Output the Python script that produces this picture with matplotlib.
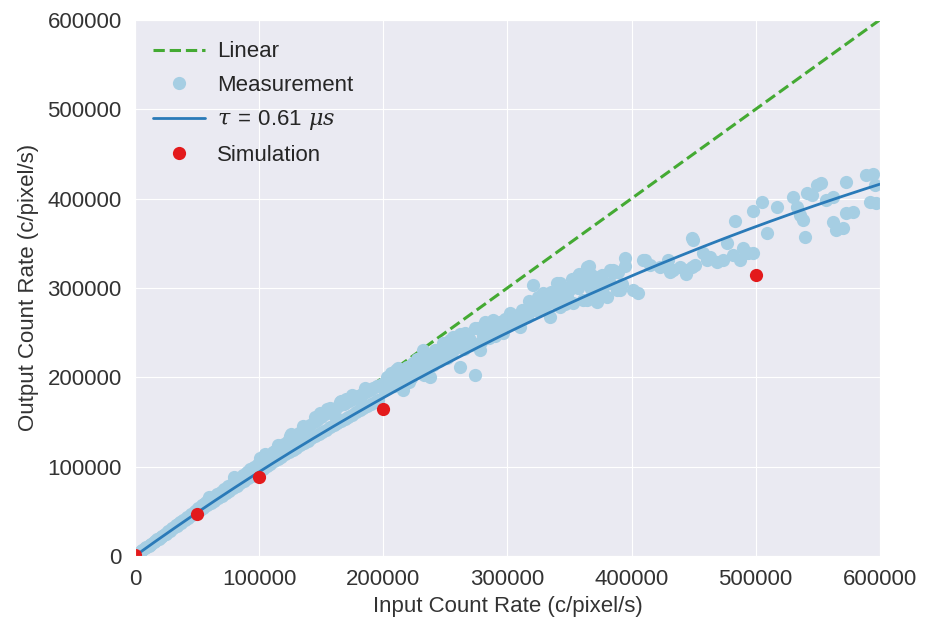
import numpy as np
import matplotlib
matplotlib.use("Agg")
import matplotlib.pyplot as plt
import seaborn as sns

sns.set_style("darkgrid")
plt.rcParams["font.family"] = ["Liberation Sans", "DejaVu Sans"]
plt.rcParams["mathtext.fontset"] = "custom"
plt.rcParams["mathtext.rm"] = "Liberation Sans"
plt.rcParams["mathtext.it"] = "DejaVu Serif:italic"

# dead time of the paralyzable fit (seconds)
tau = 0.61e-6

# measured input/output rates, in thousands of counts per pixel per second
meas_x = [
    2, 4, 5, 6, 8, 9, 11, 12, 13, 15, 16, 18, 19, 21, 22, 24, 25, 27, 28, 30,
    31, 33, 34, 35, 36, 37, 39, 40, 42, 43, 45, 46, 48, 49, 51, 52, 54, 55, 56, 57,
    58, 60, 61, 63, 64, 66, 67, 69, 70, 72, 73, 75, 76, 77, 78, 79, 81, 82, 84, 85,
    87, 88, 90, 91, 93, 94, 96, 97, 98, 99, 100, 101, 102, 103, 105, 106, 108, 109, 111, 112,
    114, 115, 117, 118, 119, 120, 121, 123, 124, 126, 126, 127, 129, 130, 132, 133, 135, 136, 138, 139,
    140, 141, 142, 144, 145, 147, 148, 149, 150, 151, 153, 154, 156, 157, 157, 159, 160, 161, 162, 163,
    165, 166, 166, 168, 169, 171, 172, 174, 175, 177, 178, 180, 181, 182, 183, 184, 186, 187, 189, 190,
    192, 193, 195, 196,
    60, 80, 105, 115, 125, 135, 145, 155, 165, 170, 175, 185,
    199, 203, 206, 208, 210, 213, 216, 218, 222, 224, 228, 232, 234, 237.6, 240, 243, 247, 250, 252, 256,
    258, 261.8, 264, 266, 270, 273.8, 276, 277.8, 280, 283, 285, 288.6, 292, 296.6, 298, 302, 305, 310, 312, 315.5,
    318, 320.5, 323.5, 326, 328.8, 331.6, 332, 334, 337, 339.6, 340, 342, 342, 346, 350, 353, 353, 355.7, 358, 361,
    363.8, 364, 366, 367, 369, 371.8, 371.8, 374.5, 377, 380, 382.6, 385, 388, 389, 390.6, 392, 394.6, 401, 405, 409,
    410.8, 415, 423, 429.5, 431, 433.6, 439, 444, 444.6, 449, 449, 449.7, 451, 457.6, 460.7, 463, 469, 473.6, 476.8, 481.6,
    483, 487, 489.7, 493.7, 497.7, 497.7, 504.7, 508.8, 516.8, 530, 533, 535.6, 538, 539.6, 541, 545, 549, 553, 557, 562,
    562, 565, 570.5, 573, 573, 578.5, 589, 592, 594.6, 596, 597,
    201, 205, 209, 212, 215, 219, 221, 225, 227, 230, 233, 236, 238, 242, 245, 248, 251, 254, 255, 259,
    262, 265, 268, 271, 274, 279, 282, 286, 290, 294, 297, 300, 304, 307, 313, 317, 322, 325, 330, 335,
    338, 344, 348, 352, 357, 362, 366, 370, 376, 383, 387, 395,
]
meas_y = [
    2.5, 4.4, 5.2, 6.5, 8.4, 9.5, 11.6, 12.1, 13.8, 15.6, 16.3, 18.9, 19.2, 21.8, 22.6, 24.9, 25.1, 28.0, 28.2, 30.9,
    31.8, 34.6, 33.9, 35.9, 37.5, 36.8, 40.8, 39.9, 44.0, 42.8, 47.5, 45.6, 50.4, 48.6, 53.8, 51.0, 57.2, 54.1, 57.8, 59.9,
    56.6, 62.5, 59.4, 65.8, 62.0, 69.0, 64.9, 71.5, 67.6, 74.8, 70.5, 78.0, 73.0, 76.5, 80.7, 76.0, 84.3, 78.4, 87.0, 81.4,
    90.4, 84.0, 93.5, 86.8, 96.8, 89.5, 100.0, 92.2, 97.0, 103.0, 95.0, 110.0, 106.8, 97.8, 109.5, 100.4, 113.0, 103.0, 116.2, 105.8,
    119.0, 108.3, 122.4, 111.0, 117.8, 125.5, 113.6, 128.3, 116.2, 131.6, 136.0, 118.7, 134.5, 121.3, 137.8, 123.8, 140.6, 126.5, 143.6, 129.0,
    137.5, 146.5, 131.6, 149.8, 134.0, 152.3, 136.5, 160.0, 155.6, 139.1, 158.4, 141.5, 161.0, 144.0, 166.0, 163.8, 146.4, 156.2, 166.0, 148.8,
    168.5, 151.2, 173.0, 170.4, 153.5, 172.8, 156.0, 174.6, 158.3, 176.8, 160.7, 178.9, 163.0, 172.6, 181.2, 165.4, 183.5, 167.6, 186.0, 170.0,
    188.4, 172.3, 190.0, 174.6,
    66, 88, 114, 124, 134, 145, 155, 164, 172, 176, 180, 188,
    192, 200, 204.5, 196, 208, 200.7, 185.8, 205, 199, 215.7, 209, 230.6, 220, 200.7, 214, 223, 232, 226, 238, 245.5,
    233, 212, 240, 250, 241.8, 202.6, 255, 230.6, 247, 253, 244, 264, 256, 249, 265, 271.7, 262, 256.7, 275, 268,
    280, 303, 286.6, 276, 294, 286.6, 282, 268, 286.6, 305, 291, 305, 279, 282, 297.8, 305, 283, 312.6, 316, 286.6,
    286.6, 323.5, 324, 299, 313, 294, 284.7, 301.5, 301.5, 290, 320, 320, 297.8, 318, 297.8, 304, 334, 298, 294, 331,
    331, 326, 323, 331, 318, 320, 323, 316, 320, 323, 356, 354, 325.7, 339, 331, 335, 329, 331, 350, 337,
    375, 331, 345, 339, 339, 386, 396.6, 361, 391, 402, 391, 381.7, 376, 357, 406, 404, 415, 417, 398.5, 402,
    374, 365, 367, 419, 383.6, 385, 426.5, 396.6, 428, 415, 394.8,
    186, 195, 190, 210, 198, 212, 195, 205, 220, 212, 203, 225, 215, 230, 218, 238, 222, 242, 228, 236,
    248, 232, 245, 236, 255, 240, 262, 252, 246, 262, 255, 258, 270, 260, 266, 285, 275, 290, 280, 296,
    283, 300, 290, 310, 300, 305, 318, 305, 315, 305, 318, 325,
]

# Monte Carlo simulation points
sim_x = [0, 50000, 100000, 200000, 500000]
sim_y = [1000, 47000, 88500, 164500, 314500]

mx = np.array(meas_x) * 1000
my = np.array(meas_y) * 1000
xs = np.linspace(0, 600000, 300)

fig = plt.figure(figsize=(9.34, 6.21), dpi=100)
fig.subplots_adjust(left=0.1445, right=0.942, top=0.968, bottom=0.1047)
ax = fig.add_subplot(111)

ax.plot(xs, xs, "--", color="#44aa33", lw=2.2, label="Linear")
ax.plot(mx, my, "o", color="#a6cee3", ms=9.5, mew=0, label="Measurement")
ax.plot(xs, xs * np.exp(-xs * tau), "-", color="#2a7ab8", lw=2,
        label=r"$\tau\,=\,0.61\ \mu s$")
ax.plot(sim_x, sim_y, "o", color="#e31a1c", ms=9.5, mew=0, label="Simulation")

ax.set_xlim(0, 600000)
ax.set_ylim(0, 600000)
ax.set_xticks(np.arange(0, 600001, 100000))
ax.set_yticks(np.arange(0, 600001, 100000))
ax.tick_params(labelsize=16, colors="#333333", pad=6)
ax.set_xlabel("Input Count Rate (c/pixel/s)", fontsize=16, color="#333333", labelpad=4)
ax.set_ylabel("Output Count Rate (c/pixel/s)", fontsize=16, color="#333333", labelpad=6)

ax.legend(loc="upper left", bbox_to_anchor=(0.0, 0.993), frameon=False,
          fontsize=16, numpoints=1, labelspacing=0.56, handlelength=2.35,
          handletextpad=0.55, borderaxespad=0.4)

fig.savefig("out.png", dpi=100)
